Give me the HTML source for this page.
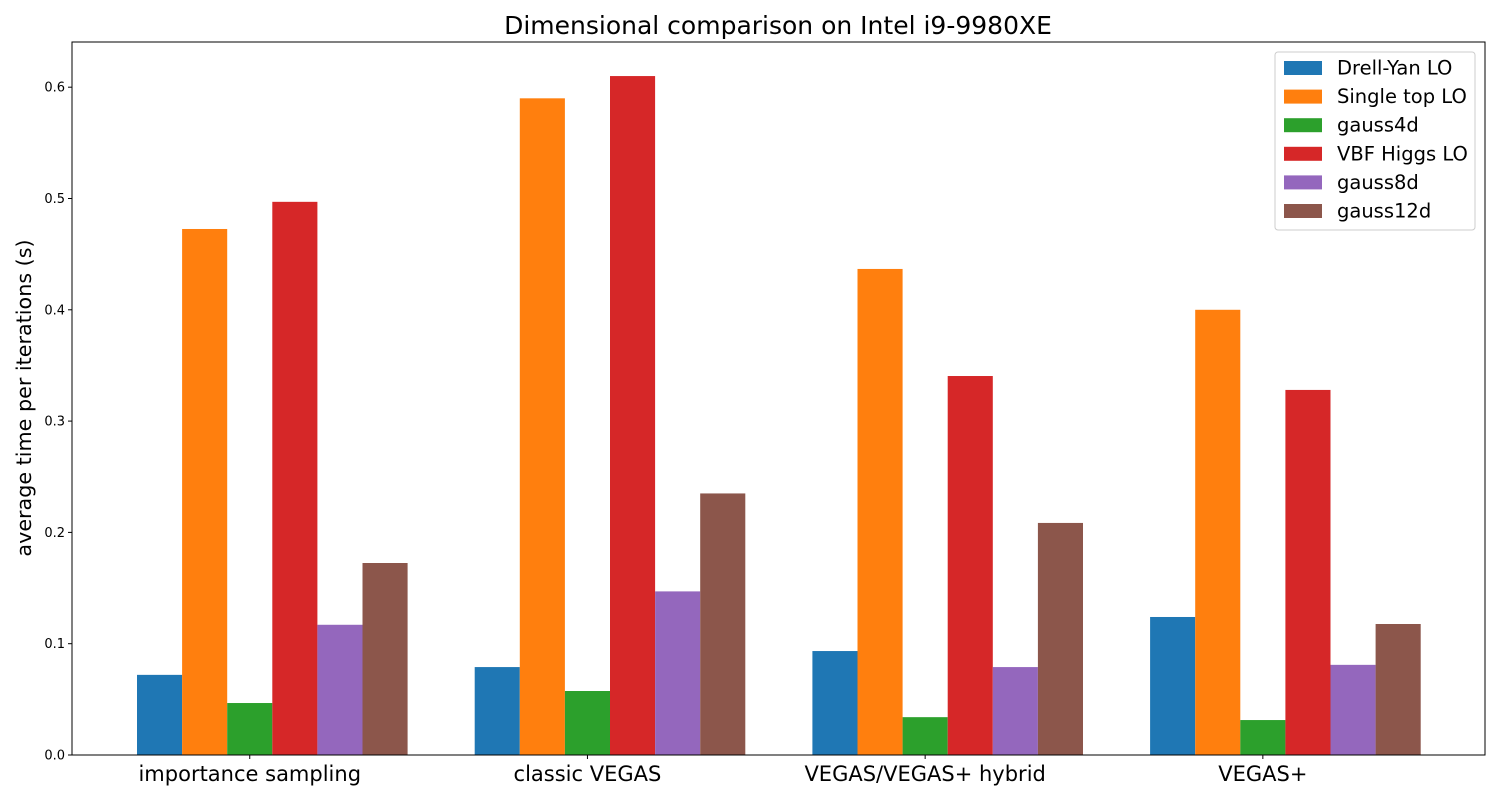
<!DOCTYPE html>
<html><head><meta charset="utf-8"><style>
html,body{margin:0;padding:0;background:#fff;}
svg{display:block;font-family:"DejaVu Sans","Liberation Sans",sans-serif;}
</style></head><body>
<svg id="chart" width="1500" height="800"></svg>
<script>
const categories = ["importance sampling","classic VEGAS","VEGAS/VEGAS+ hybrid","VEGAS+"];
const seriesNames = ["Drell-Yan LO","Single top LO","gauss4d","VBF Higgs LO","gauss8d","gauss12d"];
const colors = ["#1f77b4","#ff7f0e","#2ca02c","#d62728","#9467bd","#8c564b"];
const drellYan = [0.072,0.079,0.0934,0.124];
const singleTop = [0.4726,0.590,0.4367,0.400];
const gauss4d = [0.0467,0.0575,0.034,0.0314];
const vbfHiggs = [0.497,0.610,0.3405,0.328];
const gauss8d = [0.117,0.147,0.079,0.081];
const gauss12d = [0.1725,0.235,0.2085,0.1177];
const series = [drellYan,singleTop,gauss4d,vbfHiggs,gauss8d,gauss12d];
const yTicks = [0.0,0.1,0.2,0.3,0.4,0.5,0.6];

const NS="http://www.w3.org/2000/svg";
const svg=document.getElementById('chart');
const L=72,R=1485,T=42,B=755,yMax=0.6406;
const y=v=>B-(v/yMax)*(B-T);
const groupStart=i=>137+i*337.7;
const barW=45.1;
function mk(tag,attrs,parent){const e=document.createElementNS(NS,tag);for(const k in attrs)e.setAttribute(k,attrs[k]);(parent||svg).appendChild(e);return e;}

let t=mk('text',{x:778,y:34,'text-anchor':'middle','font-size':25,fill:'#000'});


t.textContent='Dimensional comparison on Intel i9-9980XE';

series.forEach((vals,s)=>{
  vals.forEach((v,i)=>{
    const r=mk('rect',{x:groupStart(i)+s*barW,y:y(v),width:barW,height:B-y(v),fill:colors[s]});
    
    
  });
});

const frame=mk('rect',{x:L,y:T,width:R-L,height:B-T,fill:'none',stroke:'#000','stroke-width':1});



yTicks.forEach(v=>{
  mk('line',{x1:L-4,x2:L,y1:y(v),y2:y(v),stroke:'#000'});
  const tl=mk('text',{x:L-7,y:y(v)+4.5,'text-anchor':'end','font-size':13,fill:'#000'});
  
  
  tl.textContent=v.toFixed(1);
});

categories.forEach((c,i)=>{
  const cx=groupStart(i)+2.5*barW;
  mk('line',{x1:cx,x2:cx,y1:B,y2:B+4,stroke:'#000'});
  const tl=mk('text',{x:cx,y:781,'text-anchor':'middle','font-size':21,fill:'#000'});
  
  
  tl.textContent=c;
});

const yl=mk('text',{x:0,y:0,transform:'translate(31,398) rotate(-90)','text-anchor':'middle','font-size':20.7,fill:'#000'});


yl.textContent='average time per iterations (s)';

const lg=mk('g',{});


mk('rect',{x:1275,y:52,width:200,height:178,rx:3,fill:'#fff','fill-opacity':0.8,stroke:'#ccc'},lg);
seriesNames.forEach((n,s)=>{
  const yy=68+s*28.6;
  const p=mk('rect',{x:1284,y:yy-7,width:38,height:14,fill:colors[s]},lg);
  
  
  const tx=mk('text',{x:1337,y:yy+6.5,'font-size':19.5,fill:'#000'},lg);
  
  
  tx.textContent=n;
});
</script>
</body></html>
